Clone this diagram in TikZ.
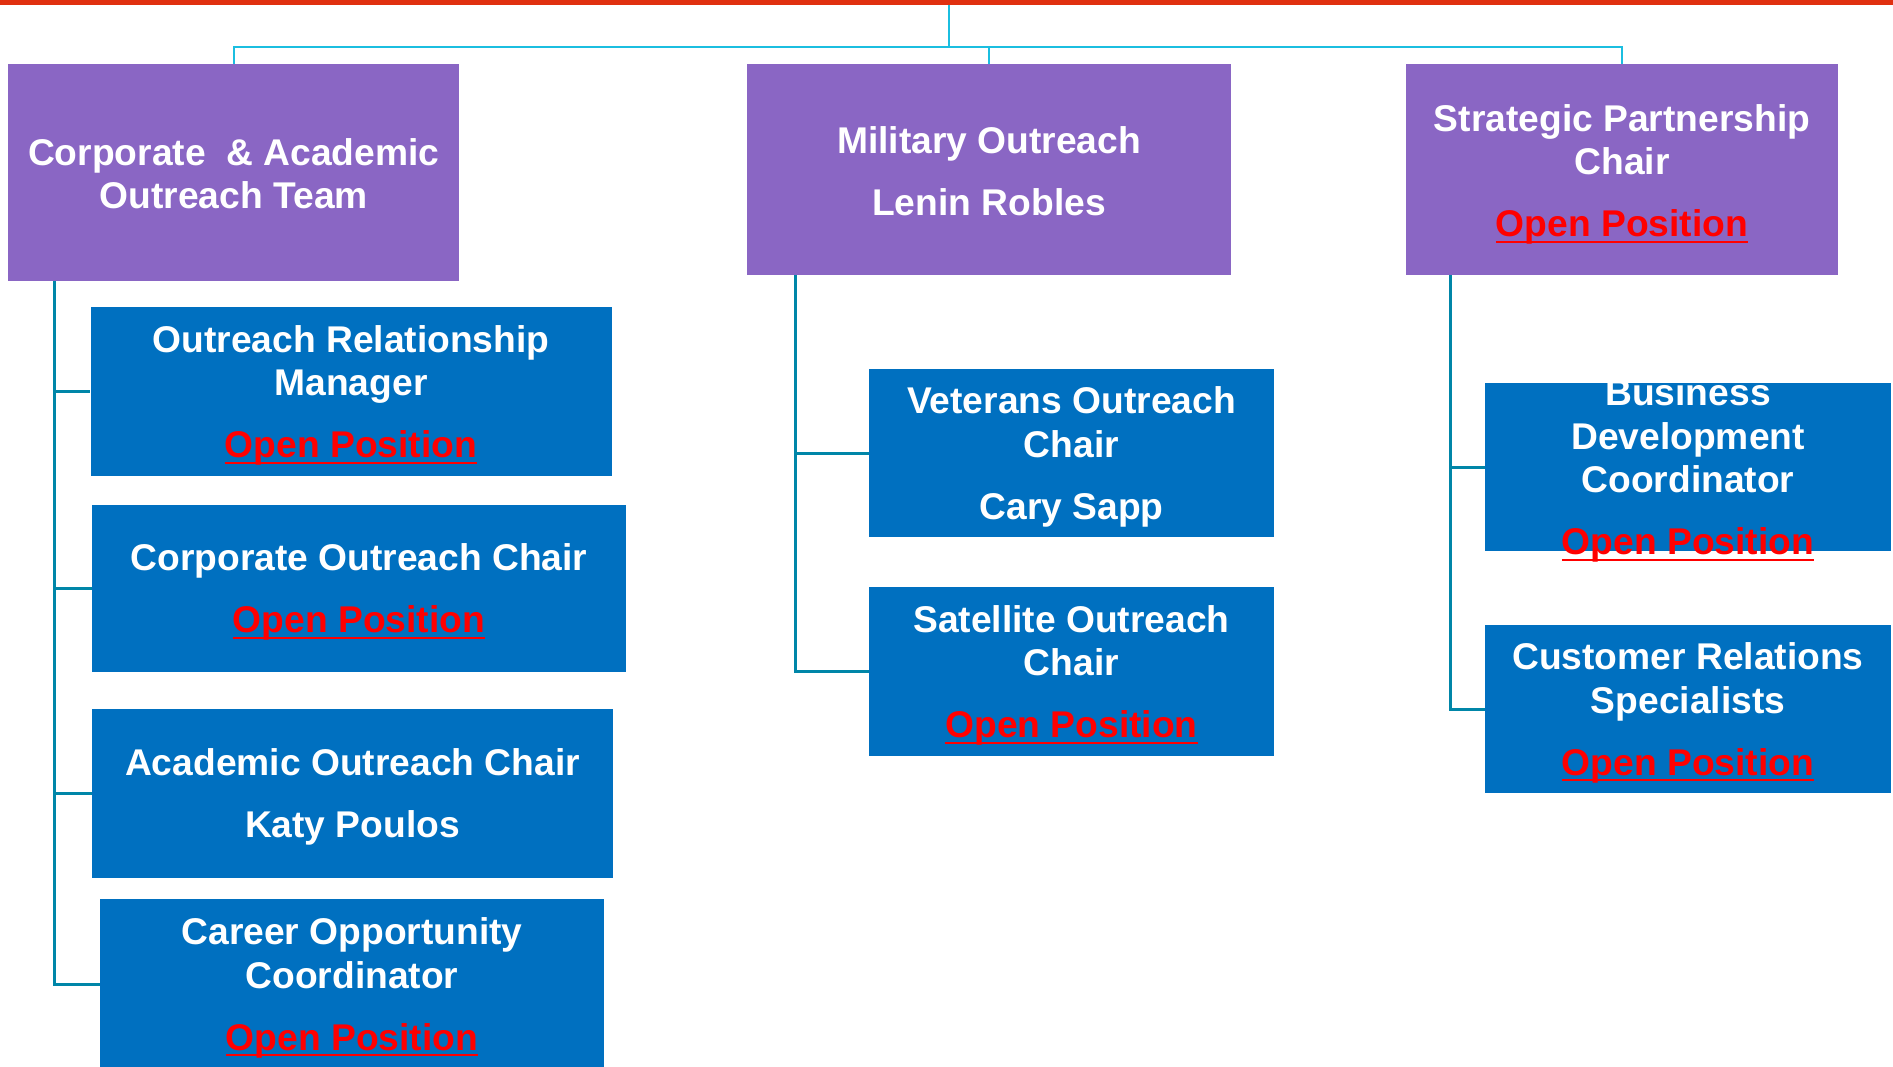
\documentclass[tikz,border=0pt]{standalone}
\usepackage{fontspec}
\setmainfont{Liberation Sans}
\usepackage{tikz}
\usetikzlibrary{positioning}

\definecolor{teampurple}{RGB}{138,102,196}
\definecolor{chairblue}{RGB}{0,112,192}
\definecolor{topcyan}{RGB}{27,190,224}
\definecolor{subteal}{RGB}{0,134,168}
\definecolor{barred}{RGB}{224,48,16}
\definecolor{openred}{RGB}{255,0,0}

\newcommand{\boxfont}{\fontsize{18.6}{21.75}\selectfont\bfseries}
\newcommand{\openpos}{{\color{openred}\setbox0=\hbox{Open Position}\rlap{\rule[-0.16em]{\wd0}{0.055em}}\box0}}

\tikzset{
  teambox/.style={rectangle, fill=teampurple, inner sep=0pt, minimum height=105.5pt},
  chairbox/.style={rectangle, fill=chairblue, inner sep=0pt, minimum height=84pt},
  boxtext/.style={text=white, font=\boxfont, align=center, inner sep=0pt, yshift=-1.9pt},
  topline/.style={draw=topcyan, line width=1.25pt},
  subline/.style={draw=subteal, line width=1.5pt}
}

\begin{document}
\begin{tikzpicture}[x=0.5pt, y=-0.5pt]
    \useasboundingbox (0,0) rectangle (1893,1066);
    \fill[barred] (0,0) rectangle (1893,4.7);
    \coordinate (bar) at (949,4.7);
    \coordinate (hub) at (949,47);

    \node[teambox, minimum width=225.5pt, minimum height=108.5pt] (team) at (233.75,172.5) {};
    \node[teambox, minimum width=242pt] (mil) at (989,169.5) {};
    \node[teambox, minimum width=216pt] (strat) at (1622,169.5) {};
    \node[boxtext, yshift=1.2pt] (teamt) at (team) {Corporate\ \ \& Academic\\Outreach Team};
    \node[boxtext, yshift=1.2pt] (milt) at (mil) {Military Outreach\\[9.25pt]Lenin Robles};
    \node[boxtext, yshift=-0.5pt] (stratt) at (strat) {Strategic Partnership\\Chair\\[9.25pt]\openpos};

    \node[chairbox, minimum width=260.5pt, minimum height=84.5pt] (orm) at (351,391.5) {};
    \node[chairbox, minimum width=267pt, minimum height=83.5pt] (coc) at (359,588.5) {};
    \node[chairbox, minimum width=260.5pt, minimum height=84.5pt] (aoc) at (352.5,793.5) {};
    \node[chairbox, minimum width=252pt, minimum height=85pt] (career) at (352,984) {};
    \node[chairbox, minimum width=202.5pt] (vet) at (1071.5,453) {};
    \node[chairbox, minimum width=202.5pt, minimum height=84.5pt] (sat) at (1071.5,671.5) {};
    \node[chairbox, minimum width=203pt] (bdc) at (1688,467) {};
    \node[chairbox, minimum width=203pt] (crs) at (1688,709) {};

    \node[boxtext] (ormt) at (orm) {Outreach Relationship\\Manager\\[9.25pt]\openpos};
    \node[boxtext] (coct) at (coc) {Corporate Outreach Chair\\[9.25pt]\openpos};
    \node[boxtext] (aoct) at (aoc) {Academic Outreach Chair\\[9.25pt]Katy Poulos};
    \node[boxtext] (careert) at (career) {Career Opportunity\\Coordinator\\[9.25pt]\openpos};
    \node[boxtext] (vett) at (vet) {Veterans Outreach\\Chair\\[9.25pt]Cary Sapp};
    \node[boxtext] (satt) at (sat) {Satellite Outreach\\Chair\\[9.25pt]\openpos};
    \node[boxtext] (bdct) at (bdc) {Business\\Development\\Coordinator\\[9.25pt]\openpos};
    \node[boxtext] (crst) at (crs) {Customer Relations\\Specialists\\[9.25pt]\openpos};

    \draw[topline] (bar) -- (hub);
    \draw[topline] (team.north) |- (hub) -| (strat.north);
    \draw[topline] (hub) -| (mil.north);

    \coordinate (teamdrop) at (54,281);
    \coordinate (mildrop) at (795,275);
    \coordinate (stratdrop) at (1450,275);
    \draw[subline] (teamdrop) |- (career.west);
    \foreach \n in {orm,coc,aoc}
        \draw[subline] (teamdrop |- \n.west) -- (\n.west);
    \draw[subline] (mildrop) |- (sat.west);
    \draw[subline] (mildrop |- vet.west) -- (vet.west);
    \draw[subline] (stratdrop) |- (crs.west);
    \draw[subline] (stratdrop |- bdc.west) -- (bdc.west);
\end{tikzpicture}
\end{document}
